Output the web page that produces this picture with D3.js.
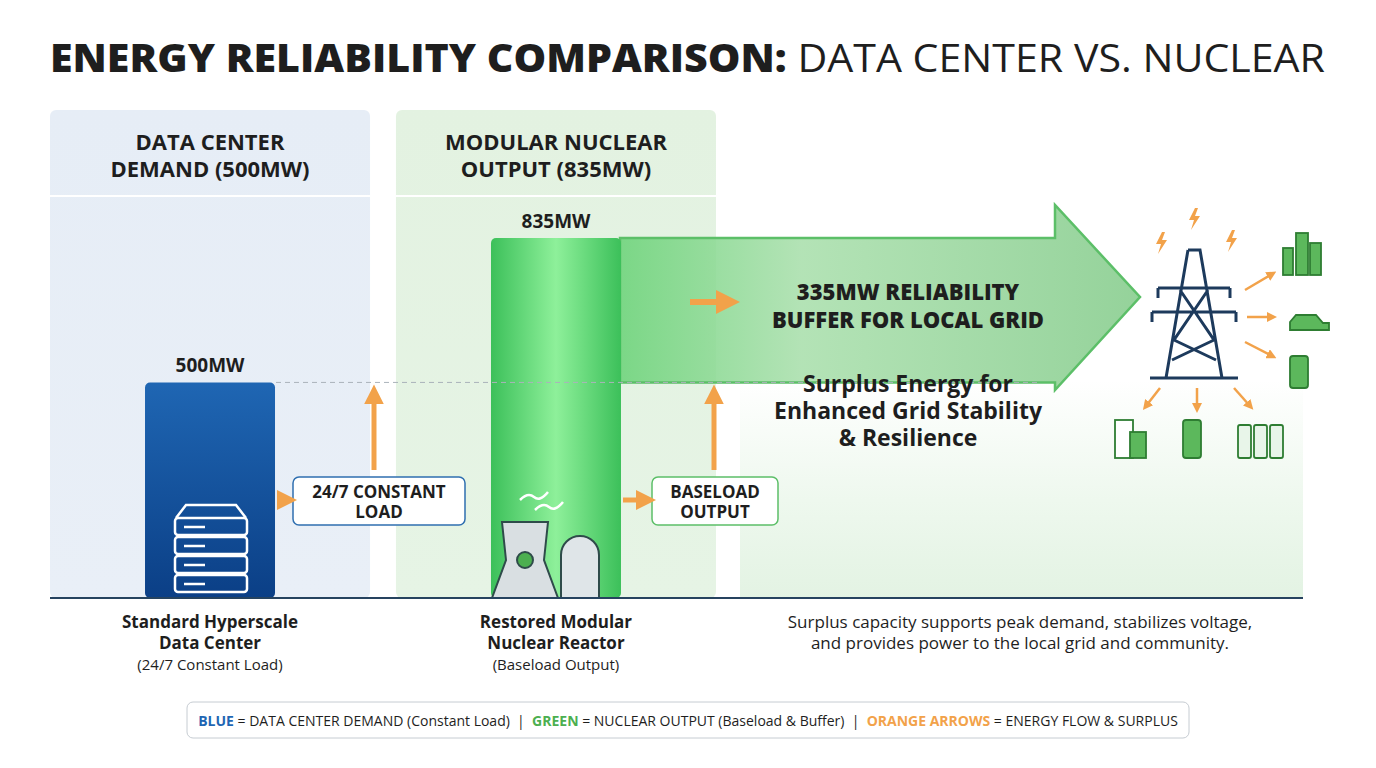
<!DOCTYPE html>
<html><head><meta charset="utf-8">
<script src="https://cdn.jsdelivr.net/npm/d3@7"></script>
<style>body{margin:0;background:#fff}svg{display:block;font-family:"Open Sans",sans-serif}</style>
</head><body><svg id="c" width="1376" height="768"></svg>
<script>
// chart data
var categories = ['Data Center Demand', 'Modular Nuclear Output'];
var valuesMW = [500, 835];
var barLabels = ['500MW', '835MW'];
var panelTitles = [['DATA CENTER', 'DEMAND (500MW)'], ['MODULAR NUCLEAR', 'OUTPUT (835MW)']];
var captions = [['Standard Hyperscale', 'Data Center', '(24/7 Constant Load)'], ['Restored Modular', 'Nuclear Reactor', '(Baseload Output)']];
var tags = [['24/7 CONSTANT', 'LOAD'], ['BASELOAD', 'OUTPUT']];
var bufferMW = valuesMW[1] - valuesMW[0];

var svg = d3.select('#c');
var defs = svg.append('defs');
var base = 598;
var y = d3.scaleLinear().domain([0, 835]).range([base, 238]);
var x = d3.scaleBand().domain(categories).range([50, 716]).paddingInner(0.075);

function lin(id, x2, y2, stops) {
	var g = defs.append('linearGradient').attr('id', id).attr('x1', 0).attr('y1', 0).attr('x2', x2).attr('y2', y2);
	stops.forEach(function(s) { g.append('stop').attr('offset', s[0]).attr('stop-color', s[1]).attr('stop-opacity', s[2] == null ? 1 : s[2]); });
}
lin('gBlue', 0, 1, [[0, '#1f66b3'], [1, '#0b3f86']]);
lin('gGreen', 1, 0, [[0, '#3cc05a'], [0.5, '#8ef09a'], [1, '#3cc05a']]);
lin('gArrow', 1, 0, [[0, '#6fd47c', 0.9], [0.35, '#a6dea9', 0.85], [1, '#8fd095', 0.95]]);
lin('gRight', 0, 1, [[0, '#ffffff'], [0.55, '#eef8ee'], [1, '#e3f3e3']]);
lin('gPanelB', 0, 1, [[0, '#e6edf6'], [1, '#e9eff7']]);
lin('gPanelG', 0, 1, [[0, '#e3f2e1'], [1, '#e6f4e5']]);
var mk = defs.append('marker').attr('id', 'ah').attr('viewBox', '0 0 10 10').attr('refX', 5).attr('refY', 5)
	.attr('markerWidth', 4).attr('markerHeight', 4).attr('orient', 'auto');
mk.append('path').attr('d', 'M0,0L10,5L0,10z').attr('fill', '#f2a24a');

// title
var t = svg.append('text').attr('x', 50).attr('y', 72).attr('font-size', 38).attr('fill', '#1e1e1e')
	.attr('textLength', 1275).attr('lengthAdjust', 'spacingAndGlyphs');
t.append('tspan').attr('font-weight', 800).text('ENERGY RELIABILITY COMPARISON:');
t.append('tspan').attr('font-weight', 400).text(' DATA CENTER VS. NUCLEAR');

// right surplus area
svg.append('rect').attr('x', 740).attr('y', 380).attr('width', 563).attr('height', 218).attr('fill', 'url(#gRight)');

// panels
categories.forEach(function(c, i) {
	var px = x(c), pw = x.bandwidth();
	svg.append('rect').attr('x', px).attr('y', 110).attr('width', pw).attr('height', base - 110).attr('rx', 6)
		.attr('fill', i ? 'url(#gPanelG)' : 'url(#gPanelB)');
	svg.append('line').attr('x1', px).attr('x2', px + pw).attr('y1', 196).attr('y2', 196).attr('stroke', '#fff').attr('stroke-width', 2);
	svg.append('text').attr('x', px + pw / 2).attr('y', 150).attr('text-anchor', 'middle').attr('font-size', 22).attr('font-weight', 700).attr('fill', '#1e1e1e')
		.selectAll('tspan').data(panelTitles[i]).enter().append('tspan').attr('x', px + pw / 2).attr('dy', function(d, j) { return j ? 27 : 0; }).text(function(d) { return d; });
});

// big buffer arrow
svg.append('path').attr('d', 'M620,' + y(835) + 'L1055,' + y(835) + 'L1055,205L1140,297L1055,390L1055,' + y(500) + 'L620,' + y(500) + 'Z')
	.attr('fill', 'url(#gArrow)').attr('stroke', '#5cbf68').attr('stroke-width', 2.5);

// bars
var bw = 130;
categories.forEach(function(c, i) {
	var cx = x(c) + x.bandwidth() / 2;
	svg.append('rect').attr('x', cx - bw / 2).attr('y', y(valuesMW[i])).attr('width', bw).attr('height', base - y(valuesMW[i])).attr('rx', 5)
		.attr('fill', i ? 'url(#gGreen)' : 'url(#gBlue)');
	svg.append('text').attr('x', cx).attr('y', y(valuesMW[i]) - 10).attr('text-anchor', 'middle').attr('font-size', 19).attr('font-weight', 700).attr('fill', '#1e1e1e').text(barLabels[i]);
	svg.append('text').attr('x', cx).attr('y', 628).attr('text-anchor', 'middle').attr('font-size', 17).attr('fill', '#1e1e1e')
		.selectAll('tspan').data(captions[i]).enter().append('tspan').attr('x', cx).attr('dy', function(d, j) { return j ? 21 : 0; })
		.attr('font-weight', function(d, j) { return j < 2 ? 700 : 400; }).attr('font-size', function(d, j) { return j < 2 ? 17 : 15; }).text(function(d) { return d; });
	// tag box + arrows
	var tx = i ? 652 : 293, tw = i ? 126 : 172;
	svg.append('rect').attr('x', tx).attr('y', 477).attr('width', tw).attr('height', 48).attr('rx', 6).attr('fill', '#fff')
		.attr('stroke', i ? '#5cbf68' : '#2f6fb0').attr('stroke-width', 1.5);
	svg.append('text').attr('x', tx + tw / 2).attr('y', 498).attr('text-anchor', 'middle').attr('font-size', 17).attr('font-weight', 700).attr('fill', '#1e1e1e')
		.selectAll('tspan').data(tags[i]).enter().append('tspan').attr('x', tx + tw / 2).attr('dy', function(d, j) { return j ? 20 : 0; }).text(function(d) { return d; });
	svg.append('line').attr('x1', cx + bw / 2 + 2).attr('x2', tx - 6).attr('y1', 500).attr('y2', 500).attr('stroke', '#f2a24a').attr('stroke-width', 5).attr('marker-end', 'url(#ah)');
	var ax = i ? 714 : 374;
	svg.append('line').attr('x1', ax).attr('x2', ax).attr('y1', 470).attr('y2', y(valuesMW[0]) + 12).attr('stroke', '#f2a24a').attr('stroke-width', 5).attr('marker-end', 'url(#ah)');
});

// server icon
var sv = svg.append('g').attr('fill', 'none').attr('stroke', '#fff').attr('stroke-width', 2.5);
sv.append('path').attr('d', 'M176,518L186,505L236,505L246,518');
for (var k = 0; k < 4; k++) {
	sv.append('rect').attr('x', 175).attr('y', 518 + k * 19).attr('width', 72).attr('height', 17).attr('rx', 3);
	sv.append('line').attr('x1', 184).attr('x2', 205).attr('y1', 527 + k * 19).attr('y2', 527 + k * 19);
}
// reactor icon
var rx = svg.append('g').attr('stroke', '#2f4b4a').attr('stroke-width', 2);
rx.append('path').attr('d', 'M502,522L548,522L544,560L558,598L492,598L506,560Z').attr('fill', '#d9dfe2');
rx.append('path').attr('d', 'M561,598L561,555A19,19 0 0 1 599,555L599,598Z').attr('fill', '#dfe5e8');
rx.append('circle').attr('cx', 525).attr('cy', 560).attr('r', 8).attr('fill', '#4caf50');
svg.append('path').attr('d', 'M520,500q8,-8 14,-3t14,-5M535,510q8,-8 14,-3t14,-5').attr('fill', 'none').attr('stroke', '#fff').attr('stroke-width', 2.5);

// dashed reference line at 500MW
svg.append('line').attr('x1', 276).attr('x2', 1040).attr('y1', y(500)).attr('y2', y(500)).attr('stroke', '#aab3ba').attr('stroke-dasharray', '5,4');

// baseline
svg.append('line').attr('x1', 50).attr('x2', 1303).attr('y1', base).attr('y2', base).attr('stroke', '#26435f').attr('stroke-width', 2);

// arrow texts
svg.append('line').attr('x1', 690).attr('x2', 728).attr('y1', 302).attr('y2', 302).attr('stroke', '#f2a24a').attr('stroke-width', 6).attr('marker-end', 'url(#ah)');
svg.append('text').attr('x', 908).attr('y', 300).attr('text-anchor', 'middle').attr('font-size', 22).attr('font-weight', 800).attr('fill', '#1e1e1e')
	.selectAll('tspan').data([bufferMW + 'MW RELIABILITY', 'BUFFER FOR LOCAL GRID']).enter().append('tspan').attr('x', 908).attr('dy', function(d, j) { return j ? 28 : 0; }).text(function(d) { return d; });
svg.append('text').attr('x', 908).attr('y', 392).attr('text-anchor', 'middle').attr('font-size', 23).attr('font-weight', 700).attr('fill', '#1e1e1e')
	.selectAll('tspan').data(['Surplus Energy for', 'Enhanced Grid Stability', '& Resilience']).enter().append('tspan').attr('x', 908).attr('dy', function(d, j) { return j ? 27 : 0; }).text(function(d) { return d; });
svg.append('text').attr('x', 1020).attr('y', 628).attr('text-anchor', 'middle').attr('font-size', 17).attr('fill', '#1e1e1e')
	.selectAll('tspan').data(['Surplus capacity supports peak demand, stabilizes voltage,', 'and provides power to the local grid and community.']).enter().append('tspan').attr('x', 1020).attr('dy', function(d, j) { return j ? 21 : 0; }).text(function(d) { return d; });

// pylon + community icons
var py = svg.append('g').attr('fill', 'none').attr('stroke', '#1d3a5c').attr('stroke-width', 3);
py.append('path').attr('d', 'M1188,250L1200,250L1222,378M1188,250L1166,378M1150,378L1238,378M1158,288L1230,288M1152,312L1236,312M1180,290L1214,340L1172,360M1208,290L1174,340L1216,360');
[1158, 1230, 1152, 1236].forEach(function(px, j) { py.append('line').attr('x1', px).attr('x2', px).attr('y1', j < 2 ? 288 : 312).attr('y2', j < 2 ? 298 : 322); });
var bolt = 'M0,0l-6,12h5l-3,10l9,-14h-5l3,-8z';
[[1195, 208], [1162, 232], [1232, 230]].forEach(function(p) { svg.append('path').attr('transform', 'translate(' + p[0] + ',' + p[1] + ')').attr('d', bolt).attr('fill', '#f2a24a'); });
var oa = svg.append('g').attr('stroke', '#f2a24a').attr('stroke-width', 2.5).attr('marker-end', 'url(#ah)');
[[1245, 290, 1272, 274], [1247, 317, 1272, 317], [1245, 342, 1272, 356], [1160, 388, 1146, 406], [1197, 388, 1197, 408], [1234, 388, 1250, 406]].forEach(function(a) {
	oa.append('line').attr('x1', a[0]).attr('y1', a[1]).attr('x2', a[2]).attr('y2', a[3]);
});
var ic = svg.append('g').attr('stroke', '#2e7d32').attr('stroke-width', 1.8).attr('fill', '#5cb85c');
ic.append('rect').attr('x', 1283).attr('y', 248).attr('width', 10).attr('height', 27);
ic.append('rect').attr('x', 1296).attr('y', 233).attr('width', 12).attr('height', 42);
ic.append('rect').attr('x', 1310).attr('y', 243).attr('width', 11).attr('height', 32);
ic.append('path').attr('d', 'M1290,330l0,-8l6,-7h20l7,8h6l0,7z');
ic.append('rect').attr('x', 1290).attr('y', 356).attr('width', 18).attr('height', 32).attr('rx', 3);
ic.append('rect').attr('x', 1115).attr('y', 420).attr('width', 18).attr('height', 38).attr('fill', '#fff');
ic.append('rect').attr('x', 1130).attr('y', 432).attr('width', 16).attr('height', 26);
ic.append('rect').attr('x', 1183).attr('y', 420).attr('width', 18).attr('height', 38).attr('rx', 3);
[1238, 1254, 1270].forEach(function(bx) { ic.append('rect').attr('x', bx).attr('y', 425).attr('width', 13).attr('height', 33).attr('rx', 2).attr('fill', '#e8f5e9'); });

// legend
svg.append('rect').attr('x', 187).attr('y', 702).attr('width', 1002).attr('height', 36).attr('rx', 6).attr('fill', '#fff').attr('stroke', '#c6ccd2');
var lg = svg.append('text').attr('x', 688).attr('y', 726).attr('text-anchor', 'middle').attr('font-size', 14).attr('fill', '#1e1e1e');
[['BLUE', '#1f66b3', ' = DATA CENTER DEMAND (Constant Load)  |  '], ['GREEN', '#4caf50', ' = NUCLEAR OUTPUT (Baseload & Buffer)  |  '], ['ORANGE ARROWS', '#f2a24a', ' = ENERGY FLOW & SURPLUS']].forEach(function(l) {
	lg.append('tspan').attr('font-weight', 700).attr('fill', l[1]).text(l[0]);
	lg.append('tspan').attr('xml:space', 'preserve').text(l[2]);
});
</script></body></html>
